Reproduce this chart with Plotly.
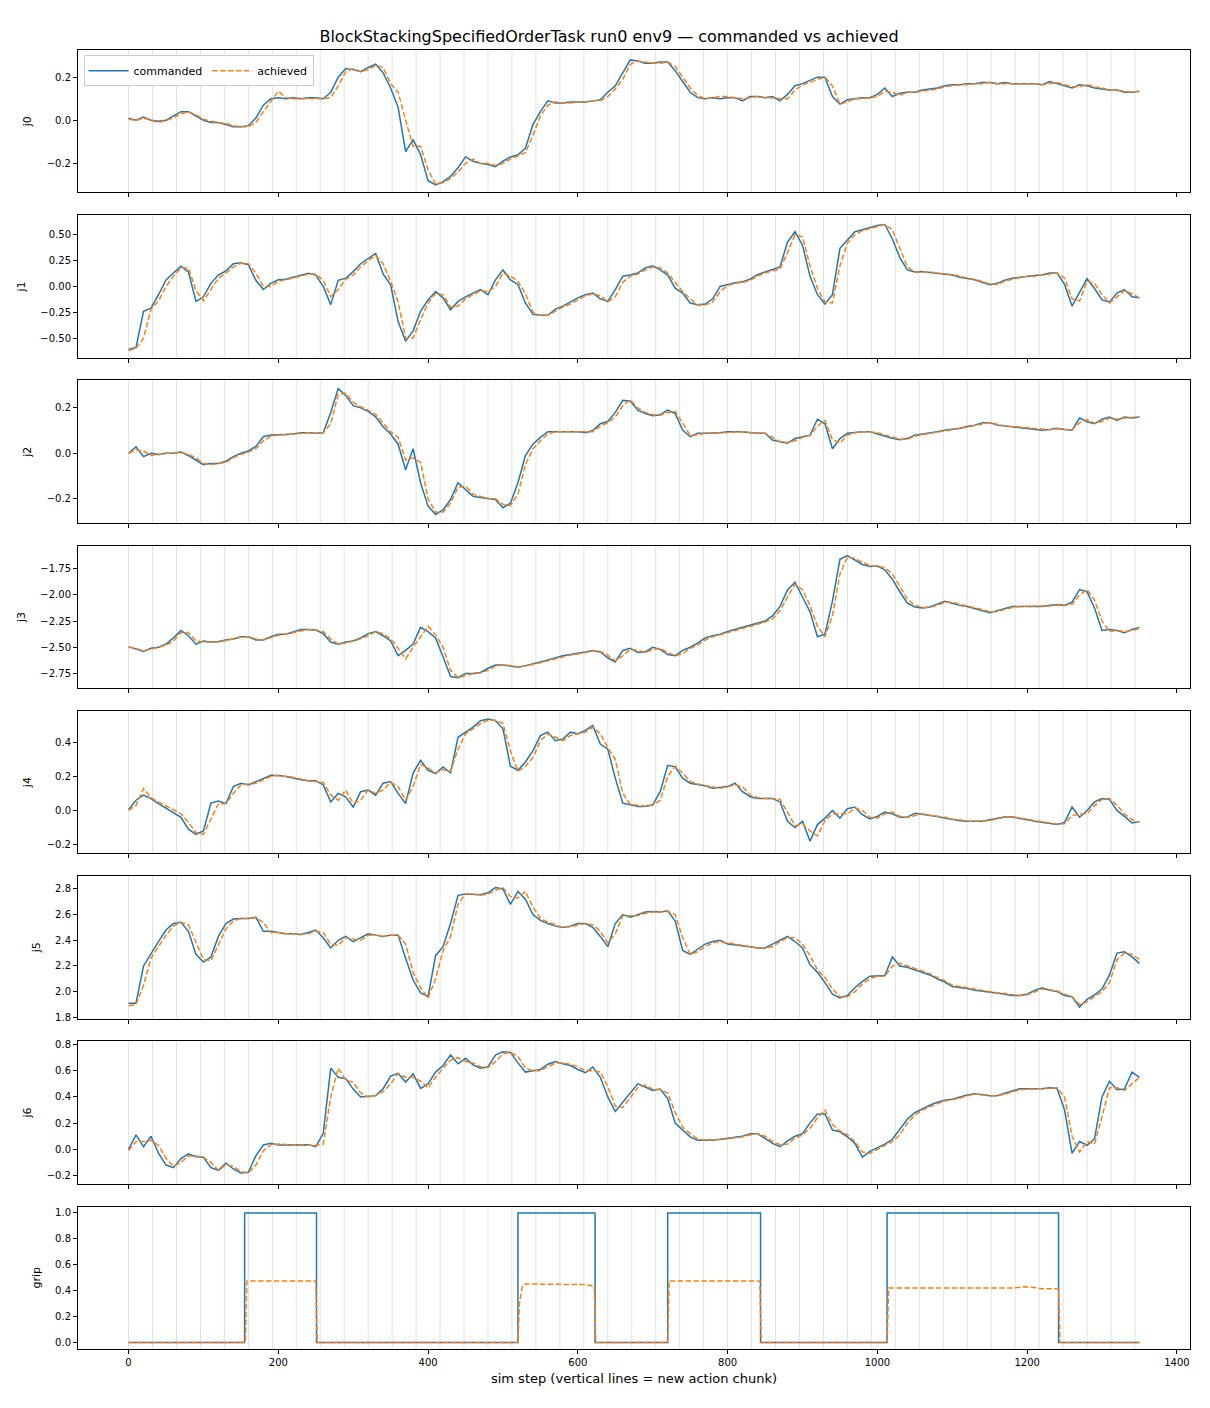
import plotly.graph_objects as go
from plotly.subplots import make_subplots

# sample grid (sim steps) used for the joint traces
steps = list(range(0, 1351, 10))

# step at which each new action chunk begins
chunk_starts = [0, 32, 64, 96, 128, 160, 192, 224, 256, 288, 320, 352, 384, 416, 448,
                480, 512, 544, 576, 608, 640, 672, 704, 736, 768, 800, 832, 864, 896,
                928, 960, 992, 1024, 1056, 1088, 1120, 1152, 1184, 1216, 1248, 1280,
                1312, 1344]

j0_cmd = [0.01, 0.0, 0.015, 0.0, -0.005, 0.0, 0.02, 0.04, 0.04, 0.02,
          0.0, -0.01, -0.01, -0.02, -0.03, -0.03, -0.025, 0.01, 0.07, 0.1,
          0.105, 0.1, 0.105, 0.1, 0.105, 0.105, 0.1, 0.13, 0.2, 0.24,
          0.235, 0.225, 0.245, 0.26, 0.22, 0.15, 0.06, -0.145, -0.09, -0.16,
          -0.28, -0.3, -0.285, -0.26, -0.22, -0.17, -0.19, -0.2, -0.205, -0.215,
          -0.19, -0.17, -0.16, -0.13, -0.02, 0.04, 0.09, 0.08, 0.08, 0.085,
          0.085, 0.085, 0.09, 0.095, 0.13, 0.16, 0.22, 0.28, 0.275, 0.265,
          0.265, 0.27, 0.27, 0.23, 0.18, 0.13, 0.105, 0.1, 0.105, 0.1,
          0.105, 0.105, 0.09, 0.11, 0.11, 0.105, 0.11, 0.09, 0.12, 0.16,
          0.17, 0.185, 0.2, 0.2, 0.11, 0.075, 0.095, 0.1, 0.105, 0.105,
          0.12, 0.15, 0.11, 0.125, 0.13, 0.13, 0.14, 0.145, 0.15, 0.16,
          0.165, 0.165, 0.17, 0.17, 0.175, 0.175, 0.17, 0.175, 0.17, 0.17,
          0.17, 0.17, 0.165, 0.18, 0.17, 0.16, 0.15, 0.165, 0.16, 0.15,
          0.145, 0.14, 0.14, 0.13, 0.13, 0.135]
j0_ach = [0.005, 0.0, 0.01, 0.0, -0.01, 0.0, 0.01, 0.03, 0.04, 0.025,
          0.005, -0.005, -0.01, -0.015, -0.025, -0.03, -0.03, -0.01, 0.04, 0.09,
          0.135, 0.105, 0.1, 0.1, 0.1, 0.1, 0.1, 0.105, 0.16, 0.225,
          0.24, 0.225, 0.235, 0.255, 0.245, 0.17, 0.13, 0.0, -0.12, -0.12,
          -0.23, -0.295, -0.29, -0.27, -0.24, -0.2, -0.18, -0.2, -0.2, -0.21,
          -0.2, -0.18, -0.165, -0.15, -0.07, 0.02, 0.07, 0.085, 0.08, 0.08,
          0.085, 0.085, 0.09, 0.09, 0.11, 0.145, 0.19, 0.26, 0.275, 0.27,
          0.265, 0.265, 0.27, 0.25, 0.2, 0.15, 0.115, 0.1, 0.105, 0.11,
          0.11, 0.105, 0.1, 0.105, 0.11, 0.105, 0.105, 0.1, 0.1, 0.14,
          0.165, 0.175, 0.19, 0.2, 0.16, 0.075, 0.085, 0.1, 0.1, 0.105,
          0.11, 0.135, 0.13, 0.115, 0.13, 0.13, 0.135, 0.14, 0.145, 0.155,
          0.16, 0.165, 0.165, 0.17, 0.17, 0.175, 0.17, 0.17, 0.17, 0.17,
          0.17, 0.17, 0.165, 0.17, 0.175, 0.165, 0.155, 0.155, 0.165, 0.155,
          0.15, 0.14, 0.14, 0.135, 0.13, 0.135]

j1_cmd = [-0.61, -0.59, -0.24, -0.21, -0.08, 0.064, 0.13, 0.195, 0.14, -0.145,
          -0.1, 0.03, 0.11, 0.15, 0.22, 0.23, 0.21, 0.06, -0.03, 0.03,
          0.064, 0.07, 0.09, 0.11, 0.128, 0.11, 0.0, -0.176, 0.06, 0.08,
          0.144, 0.22, 0.27, 0.32, 0.12, 0.016, -0.34, -0.53, -0.43, -0.24,
          -0.13, -0.05, -0.11, -0.225, -0.145, -0.1, -0.064, -0.03, -0.08, 0.064,
          0.16, 0.064, 0.02, -0.16, -0.27, -0.28, -0.28, -0.22, -0.19, -0.15,
          -0.11, -0.08, -0.064, -0.12, -0.145, -0.03, 0.1, 0.11, 0.13, 0.18,
          0.2, 0.16, 0.11, -0.016, -0.064, -0.16, -0.176, -0.17, -0.12, 0.0,
          0.02, 0.035, 0.045, 0.07, 0.115, 0.14, 0.16, 0.19, 0.43, 0.53,
          0.4, 0.1, -0.08, -0.17, -0.08, 0.37, 0.45, 0.53, 0.55, 0.57,
          0.59, 0.6, 0.46, 0.28, 0.16, 0.14, 0.144, 0.135, 0.128, 0.12,
          0.11, 0.09, 0.075, 0.064, 0.04, 0.016, 0.03, 0.06, 0.08, 0.09,
          0.1, 0.105, 0.11, 0.13, 0.13, 0.02, -0.19, -0.064, 0.075, -0.02,
          -0.13, -0.15, -0.064, -0.03, -0.1, -0.11]
j1_ach = [-0.62, -0.6, -0.5, -0.22, -0.14, 0.0, 0.1, 0.18, 0.18, -0.04,
          -0.14, -0.03, 0.08, 0.13, 0.19, 0.225, 0.22, 0.13, 0.0, 0.0,
          0.05, 0.065, 0.08, 0.1, 0.12, 0.12, 0.06, -0.1, -0.03, 0.07,
          0.11, 0.19, 0.25, 0.3, 0.22, 0.05, -0.15, -0.5, -0.5, -0.32,
          -0.16, -0.07, -0.08, -0.2, -0.19, -0.12, -0.08, -0.04, -0.05, 0.0,
          0.13, 0.1, 0.05, -0.07, -0.25, -0.28, -0.28, -0.24, -0.2, -0.17,
          -0.13, -0.09, -0.07, -0.09, -0.15, -0.1, 0.04, 0.1, 0.12, 0.16,
          0.19, 0.18, 0.13, 0.04, -0.05, -0.12, -0.18, -0.18, -0.15, -0.05,
          0.01, 0.03, 0.04, 0.06, 0.1, 0.13, 0.15, 0.17, 0.33, 0.5,
          0.48, 0.2, -0.02, -0.15, -0.16, 0.2, 0.42, 0.5, 0.54, 0.56,
          0.58, 0.6, 0.55, 0.36, 0.19, 0.14, 0.14, 0.14, 0.13, 0.125,
          0.115, 0.1, 0.08, 0.07, 0.05, 0.025, 0.02, 0.05, 0.07, 0.085,
          0.1, 0.1, 0.11, 0.12, 0.13, 0.08, -0.12, -0.14, 0.05, 0.03,
          -0.08, -0.16, -0.1, -0.04, -0.07, -0.11]

j2_cmd = [0.0, 0.028, -0.015, 0.0, -0.005, 0.0, 0.0, 0.005, -0.01, -0.03,
          -0.05, -0.045, -0.045, -0.035, -0.015, 0.0, 0.01, 0.03, 0.073, 0.08,
          0.08, 0.083, 0.085, 0.09, 0.09, 0.088, 0.09, 0.18, 0.285, 0.255,
          0.21, 0.2, 0.185, 0.16, 0.117, 0.085, 0.04, -0.073, 0.02, -0.13,
          -0.233, -0.27, -0.25, -0.204, -0.13, -0.16, -0.19, -0.195, -0.2, -0.204,
          -0.24, -0.22, -0.13, -0.01, 0.04, 0.07, 0.095, 0.095, 0.095, 0.095,
          0.095, 0.09, 0.1, 0.13, 0.14, 0.18, 0.233, 0.23, 0.19, 0.175,
          0.165, 0.17, 0.19, 0.175, 0.102, 0.073, 0.088, 0.088, 0.088, 0.09,
          0.095, 0.095, 0.095, 0.09, 0.088, 0.088, 0.058, 0.05, 0.044, 0.065,
          0.073, 0.08, 0.15, 0.13, 0.02, 0.065, 0.088, 0.093, 0.095, 0.095,
          0.085, 0.075, 0.066, 0.06, 0.065, 0.08, 0.085, 0.088, 0.095, 0.102,
          0.105, 0.11, 0.118, 0.124, 0.135, 0.135, 0.124, 0.12, 0.117, 0.113,
          0.11, 0.105, 0.102, 0.105, 0.11, 0.105, 0.102, 0.155, 0.139, 0.13,
          0.15, 0.16, 0.145, 0.16, 0.155, 0.16]
j2_ach = [0.0, 0.015, 0.01, -0.01, -0.005, 0.0, 0.0, 0.003, -0.005, -0.02,
          -0.045, -0.05, -0.045, -0.04, -0.02, -0.005, 0.005, 0.02, 0.055, 0.075,
          0.08, 0.082, 0.085, 0.088, 0.09, 0.088, 0.09, 0.13, 0.26, 0.265,
          0.225, 0.205, 0.19, 0.17, 0.13, 0.095, 0.07, -0.03, -0.02, -0.04,
          -0.2, -0.26, -0.26, -0.22, -0.15, -0.145, -0.18, -0.19, -0.2, -0.2,
          -0.225, -0.23, -0.18, -0.05, 0.02, 0.055, 0.085, 0.095, 0.095, 0.095,
          0.095, 0.092, 0.095, 0.12, 0.135, 0.16, 0.21, 0.235, 0.2, 0.18,
          0.17, 0.168, 0.18, 0.185, 0.13, 0.08, 0.08, 0.088, 0.088, 0.09,
          0.093, 0.095, 0.095, 0.092, 0.09, 0.088, 0.07, 0.05, 0.048, 0.055,
          0.07, 0.078, 0.12, 0.145, 0.06, 0.045, 0.08, 0.09, 0.095, 0.095,
          0.09, 0.08, 0.07, 0.062, 0.062, 0.075, 0.082, 0.087, 0.092, 0.1,
          0.104, 0.108, 0.115, 0.122, 0.13, 0.135, 0.128, 0.12, 0.118, 0.115,
          0.11, 0.107, 0.104, 0.104, 0.108, 0.107, 0.103, 0.135, 0.148, 0.133,
          0.14, 0.155, 0.15, 0.155, 0.158, 0.16]

j3_cmd = [-2.494, -2.52, -2.54, -2.51, -2.5, -2.47, -2.41, -2.34, -2.39, -2.47,
          -2.44, -2.45, -2.445, -2.43, -2.42, -2.4, -2.4, -2.43, -2.43, -2.4,
          -2.375, -2.375, -2.35, -2.33, -2.33, -2.335, -2.37, -2.45, -2.47, -2.45,
          -2.44, -2.41, -2.37, -2.35, -2.39, -2.44, -2.58, -2.53, -2.47, -2.31,
          -2.35, -2.41, -2.59, -2.78, -2.79, -2.75, -2.75, -2.74, -2.7, -2.67,
          -2.67, -2.68, -2.69, -2.675, -2.66, -2.64, -2.62, -2.6, -2.58, -2.57,
          -2.56, -2.545, -2.53, -2.545, -2.6, -2.64, -2.53, -2.51, -2.55, -2.545,
          -2.5, -2.52, -2.57, -2.58, -2.53, -2.5, -2.46, -2.41, -2.39, -2.375,
          -2.35, -2.33, -2.31, -2.29, -2.27, -2.25, -2.2, -2.11, -1.953, -1.88,
          -2.02, -2.16, -2.4, -2.375, -2.06, -1.66, -1.625, -1.67, -1.71, -1.73,
          -1.725, -1.76, -1.85, -1.97, -2.08, -2.115, -2.125, -2.115, -2.09, -2.06,
          -2.08, -2.1, -2.11, -2.13, -2.15, -2.17, -2.15, -2.13, -2.11, -2.11,
          -2.11, -2.115, -2.11, -2.1, -2.094, -2.1, -2.07, -1.95, -1.97, -2.125,
          -2.34, -2.33, -2.34, -2.36, -2.33, -2.31]
j3_ach = [-2.5, -2.51, -2.535, -2.52, -2.5, -2.48, -2.44, -2.36, -2.36, -2.44,
          -2.45, -2.45, -2.45, -2.435, -2.42, -2.405, -2.4, -2.42, -2.43, -2.41,
          -2.385, -2.375, -2.36, -2.34, -2.33, -2.335, -2.35, -2.42, -2.47, -2.46,
          -2.44, -2.42, -2.39, -2.35, -2.37, -2.42, -2.51, -2.61, -2.5, -2.4,
          -2.3, -2.38, -2.5, -2.72, -2.79, -2.77, -2.75, -2.745, -2.72, -2.68,
          -2.67, -2.675, -2.685, -2.68, -2.665, -2.65, -2.63, -2.61, -2.59, -2.575,
          -2.565, -2.55, -2.535, -2.54, -2.575, -2.63, -2.58, -2.52, -2.53, -2.55,
          -2.52, -2.51, -2.55, -2.58, -2.56, -2.51, -2.48, -2.43, -2.4, -2.38,
          -2.36, -2.34, -2.32, -2.3, -2.28, -2.26, -2.23, -2.15, -2.02, -1.9,
          -1.95, -2.1, -2.3, -2.4, -2.2, -1.8, -1.64, -1.65, -1.69, -1.72,
          -1.73, -1.74, -1.8, -1.92, -2.04, -2.1, -2.12, -2.12, -2.1, -2.07,
          -2.07, -2.09, -2.105, -2.12, -2.14, -2.16, -2.16, -2.14, -2.12, -2.11,
          -2.11, -2.11, -2.11, -2.105, -2.1, -2.1, -2.09, -2.0, -1.95, -2.05,
          -2.25, -2.35, -2.34, -2.35, -2.34, -2.32]

j4_cmd = [0.004, 0.06, 0.09, 0.07, 0.04, 0.014, -0.012, -0.04, -0.11, -0.14,
          -0.12, 0.043, 0.055, 0.04, 0.14, 0.16, 0.15, 0.17, 0.19, 0.207,
          0.205, 0.2, 0.19, 0.18, 0.175, 0.175, 0.15, 0.05, 0.1, 0.08,
          0.02, 0.11, 0.12, 0.09, 0.16, 0.17, 0.1, 0.04, 0.22, 0.295,
          0.236, 0.217, 0.256, 0.22, 0.43, 0.46, 0.49, 0.527, 0.537, 0.527,
          0.48, 0.26, 0.236, 0.285, 0.35, 0.44, 0.46, 0.41, 0.42, 0.46,
          0.45, 0.47, 0.5, 0.39, 0.36, 0.19, 0.043, 0.033, 0.023, 0.023,
          0.033, 0.11, 0.265, 0.256, 0.19, 0.16, 0.152, 0.145, 0.13, 0.135,
          0.14, 0.16, 0.11, 0.08, 0.07, 0.07, 0.07, 0.05, -0.064, -0.1,
          -0.064, -0.18, -0.083, -0.045, 0.0, -0.045, 0.01, 0.02, -0.025, -0.05,
          -0.035, -0.01, -0.02, -0.04, -0.04, -0.016, -0.022, -0.028, -0.035, -0.045,
          -0.054, -0.06, -0.064, -0.064, -0.064, -0.055, -0.045, -0.038, -0.038, -0.045,
          -0.055, -0.064, -0.07, -0.076, -0.083, -0.07, 0.02, -0.04, 0.0, 0.05,
          0.07, 0.065, 0.0, -0.035, -0.074, -0.065]
j4_ach = [0.0, 0.03, 0.13, 0.075, 0.05, 0.025, 0.0, -0.02, -0.07, -0.13,
          -0.14, -0.05, 0.04, 0.04, 0.1, 0.15, 0.155, 0.16, 0.18, 0.2,
          0.205, 0.2, 0.195, 0.185, 0.175, 0.17, 0.165, 0.09, 0.06, 0.12,
          0.04, 0.06, 0.12, 0.1, 0.12, 0.165, 0.14, 0.06, 0.14, 0.27,
          0.25, 0.22, 0.24, 0.23, 0.36, 0.45, 0.48, 0.51, 0.53, 0.53,
          0.51, 0.35, 0.23, 0.26, 0.31, 0.41, 0.45, 0.43, 0.41, 0.44,
          0.45, 0.46, 0.49, 0.45, 0.37, 0.3, 0.1, 0.035, 0.03, 0.025,
          0.03, 0.06, 0.2, 0.26, 0.22, 0.17, 0.155, 0.145, 0.14, 0.13,
          0.14, 0.15, 0.14, 0.09, 0.075, 0.07, 0.07, 0.065, -0.01, -0.09,
          -0.08, -0.12, -0.15, -0.06, -0.02, -0.02, -0.02, 0.015, 0.0, -0.04,
          -0.045, -0.02, -0.01, -0.035, -0.04, -0.03, -0.02, -0.028, -0.033, -0.04,
          -0.05, -0.057, -0.062, -0.064, -0.064, -0.06, -0.05, -0.04, -0.038, -0.042,
          -0.05, -0.06, -0.067, -0.073, -0.08, -0.078, -0.03, -0.02, -0.02, 0.03,
          0.065, 0.07, 0.03, -0.02, -0.055, -0.07]

j5_cmd = [1.91, 1.91, 2.2, 2.3, 2.39, 2.48, 2.53, 2.54, 2.47, 2.29,
          2.23, 2.27, 2.43, 2.53, 2.565, 2.57, 2.57, 2.58, 2.47, 2.47,
          2.46, 2.45, 2.45, 2.445, 2.46, 2.48, 2.42, 2.34, 2.4, 2.43,
          2.39, 2.42, 2.45, 2.44, 2.43, 2.44, 2.44, 2.26, 2.09, 1.99,
          1.96, 2.28, 2.35, 2.53, 2.75, 2.76, 2.755, 2.755, 2.77, 2.81,
          2.8, 2.68, 2.78, 2.72, 2.6, 2.555, 2.53, 2.51, 2.5, 2.51,
          2.53, 2.53, 2.5, 2.43, 2.35, 2.53, 2.6, 2.58, 2.6, 2.62,
          2.625, 2.62, 2.63, 2.55, 2.32, 2.29, 2.33, 2.37, 2.39, 2.4,
          2.37, 2.365, 2.36, 2.35, 2.34, 2.34, 2.37, 2.4, 2.43, 2.39,
          2.34, 2.21, 2.15, 2.07, 1.98, 1.95, 1.97, 2.03, 2.08, 2.12,
          2.12, 2.125, 2.27, 2.2, 2.19, 2.17, 2.15, 2.13, 2.1, 2.075,
          2.04, 2.035, 2.025, 2.01, 2.005, 1.995, 1.99, 1.98, 1.97, 1.97,
          1.98, 2.01, 2.03, 2.01, 2.0, 1.97, 1.96, 1.88, 1.94, 1.975,
          2.02, 2.13, 2.3, 2.31, 2.27, 2.22]
j5_ach = [1.89, 1.9, 2.05, 2.26, 2.35, 2.44, 2.51, 2.54, 2.52, 2.38,
          2.25, 2.24, 2.36, 2.49, 2.55, 2.57, 2.57, 2.575, 2.54, 2.46,
          2.46, 2.45, 2.45, 2.445, 2.45, 2.47, 2.46, 2.37, 2.36, 2.42,
          2.41, 2.4, 2.44, 2.44, 2.43, 2.44, 2.44, 2.37, 2.15, 2.03,
          1.95, 2.1, 2.32, 2.43, 2.68, 2.76, 2.76, 2.75, 2.76, 2.79,
          2.81, 2.74, 2.73, 2.78, 2.66, 2.57, 2.54, 2.52, 2.5, 2.505,
          2.52, 2.53, 2.52, 2.47, 2.38, 2.45, 2.59, 2.59, 2.59, 2.61,
          2.62, 2.62, 2.625, 2.6, 2.42, 2.29, 2.31, 2.35, 2.38, 2.39,
          2.38, 2.37, 2.36, 2.35, 2.34, 2.34, 2.35, 2.39, 2.42, 2.42,
          2.37, 2.28, 2.17, 2.11, 2.02, 1.96, 1.96, 2.0, 2.06, 2.1,
          2.12, 2.12, 2.2, 2.22, 2.2, 2.18, 2.16, 2.14, 2.11, 2.085,
          2.05, 2.04, 2.03, 2.015, 2.005, 2.0, 1.99, 1.985, 1.975, 1.97,
          1.975, 2.0, 2.02, 2.015, 2.005, 1.98, 1.96, 1.9, 1.92, 1.96,
          2.0, 2.07, 2.25, 2.3, 2.29, 2.25]

j6_cmd = [0.0, 0.11, 0.02, 0.1, -0.03, -0.12, -0.14, -0.07, -0.035, -0.056,
          -0.06, -0.14, -0.16, -0.106, -0.15, -0.18, -0.175, -0.05, 0.033, 0.046,
          0.033, 0.033, 0.035, 0.033, 0.035, 0.02, 0.12, 0.62, 0.55, 0.54,
          0.46, 0.4, 0.405, 0.41, 0.463, 0.56, 0.58, 0.514, 0.577, 0.465,
          0.5, 0.59, 0.64, 0.72, 0.653, 0.695, 0.645, 0.62, 0.63, 0.72,
          0.745, 0.74, 0.66, 0.59, 0.6, 0.61, 0.65, 0.67, 0.653, 0.64,
          0.61, 0.585, 0.628, 0.55, 0.4, 0.29, 0.36, 0.43, 0.5, 0.476,
          0.45, 0.46, 0.387, 0.2, 0.145, 0.095, 0.07, 0.07, 0.07, 0.077,
          0.083, 0.09, 0.1, 0.12, 0.12, 0.083, 0.046, 0.02, 0.065, 0.1,
          0.12, 0.2, 0.27, 0.27, 0.147, 0.134, 0.096, 0.046, -0.06, -0.015,
          0.01, 0.04, 0.077, 0.15, 0.23, 0.28, 0.31, 0.337, 0.36, 0.375,
          0.383, 0.4, 0.415, 0.425, 0.415, 0.41, 0.41, 0.43, 0.445, 0.463,
          0.463, 0.463, 0.463, 0.47, 0.465, 0.3, -0.03, 0.06, 0.03, 0.08,
          0.4, 0.52, 0.455, 0.46, 0.59, 0.55]
j6_ach = [-0.01, 0.06, 0.06, 0.07, 0.03, -0.07, -0.13, -0.1, -0.05, -0.05,
          -0.06, -0.1, -0.16, -0.12, -0.13, -0.17, -0.18, -0.12, -0.01, 0.035,
          0.04, 0.035, 0.033, 0.033, 0.033, 0.03, 0.04, 0.4, 0.62, 0.53,
          0.51, 0.43, 0.4, 0.41, 0.44, 0.5, 0.58, 0.55, 0.55, 0.52,
          0.47, 0.55, 0.62, 0.68, 0.7, 0.67, 0.66, 0.63, 0.625, 0.67,
          0.73, 0.74, 0.71, 0.62, 0.6, 0.6, 0.63, 0.66, 0.66, 0.65,
          0.63, 0.6, 0.6, 0.59, 0.48, 0.33, 0.32, 0.4, 0.47, 0.49,
          0.46, 0.455, 0.43, 0.28, 0.17, 0.12, 0.08, 0.07, 0.07, 0.075,
          0.08, 0.088, 0.097, 0.11, 0.12, 0.1, 0.06, 0.035, 0.04, 0.085,
          0.11, 0.16, 0.24, 0.3, 0.19, 0.14, 0.11, 0.06, -0.02, -0.03,
          0.0, 0.03, 0.06, 0.11, 0.2, 0.26, 0.3, 0.325, 0.35, 0.37,
          0.38, 0.39, 0.41, 0.42, 0.42, 0.41, 0.41, 0.42, 0.44, 0.455,
          0.46, 0.46, 0.46, 0.465, 0.47, 0.4, 0.1, -0.02, 0.06, 0.04,
          0.25, 0.47, 0.47, 0.45, 0.5, 0.55]

# gripper: commanded is a step signal, achieved settles below 0.5
grip_cmd_steps = [0, 155, 251, 520, 623, 720, 844, 1013, 1242, 1350]
grip_cmd = [0, 1, 0, 1, 0, 1, 0, 1, 0, 0]
grip_ach_steps = [0, 156, 158, 250, 252, 520, 522, 526, 530, 600, 610, 620, 622, 624,
                  720, 722, 843, 845, 1013, 1015, 1180, 1195, 1210, 1220, 1242, 1244, 1350]
grip_ach = [0, 0, 0.475, 0.475, 0, 0, 0.3, 0.44, 0.452, 0.452, 0.447, 0.437, 0.435, 0,
            0, 0.475, 0.475, 0, 0, 0.42, 0.42, 0.43, 0.425, 0.415, 0.415, 0, 0]

joints = [
    ("j0", j0_cmd, j0_ach, [-0.335, 0.326], [-0.2, 0.0, 0.2], ".1f"),
    ("j1", j1_cmd, j1_ach, [-0.69, 0.69], [-0.5, -0.25, 0.0, 0.25, 0.5], ".2f"),
    ("j2", j2_cmd, j2_ach, [-0.307, 0.321], [-0.2, 0.0, 0.2], ".1f"),
    ("j3", j3_cmd, j3_ach, [-2.89, -1.53], [-2.75, -2.5, -2.25, -2.0, -1.75], ".2f"),
    ("j4", j4_cmd, j4_ach, [-0.252, 0.585], [-0.2, 0.0, 0.2, 0.4], ".1f"),
    ("j5", j5_cmd, j5_ach, [1.79, 2.9], [1.8, 2.0, 2.2, 2.4, 2.6, 2.8], ".1f"),
    ("j6", j6_cmd, j6_ach, [-0.263, 0.825], [-0.2, 0.0, 0.2, 0.4, 0.6, 0.8], ".1f"),
]

BLUE = "#1f77b4"
ORANGE = "#ff7f0e"
DASH = "5.5px,2.4px"
FONT = "DejaVu Sans"

fig = make_subplots(rows=8, cols=1, shared_xaxes=True, vertical_spacing=0.0175)

for i, (name, cmd, ach, yr, tv, fmt) in enumerate(joints):
    row = i + 1
    fig.add_trace(go.Scatter(x=steps, y=cmd, mode="lines", name="commanded",
                             line=dict(color=BLUE, width=1.5),
                             showlegend=(row == 1), legendgroup="cmd"),
                  row=row, col=1)
    fig.add_trace(go.Scatter(x=steps, y=ach, mode="lines", name="achieved",
                             line=dict(color=ORANGE, width=1.5, dash=DASH),
                             showlegend=(row == 1), legendgroup="ach"),
                  row=row, col=1)
    fig.update_yaxes(range=yr, tickvals=tv, tickformat=fmt,
                     title_text=name, row=row, col=1)

# gripper panel
fig.add_trace(go.Scatter(x=grip_cmd_steps, y=grip_cmd, mode="lines", line_shape="hv",
                         line=dict(color=BLUE, width=1.5), showlegend=False,
                         legendgroup="cmd"), row=8, col=1)
fig.add_trace(go.Scatter(x=grip_ach_steps, y=grip_ach, mode="lines",
                         line=dict(color=ORANGE, width=1.5, dash=DASH),
                         showlegend=False, legendgroup="ach"), row=8, col=1)
fig.update_yaxes(range=[-0.05, 1.05], tickvals=[0, 0.2, 0.4, 0.6, 0.8, 1.0],
                 tickformat=".1f", title_text="grip", row=8, col=1)

# action chunk boundaries
for s in chunk_starts:
    fig.add_vline(x=s, row="all", col=1, layer="below",
                  line=dict(color="rgba(0,0,0,0.12)", width=1))

fig.update_xaxes(range=[-67.5, 1417.5], tickvals=[0, 200, 400, 600, 800, 1000, 1200, 1400],
                 showline=True, mirror=True, linecolor="black", linewidth=1,
                 ticks="outside", ticklen=4, tickcolor="black",
                 showgrid=False, zeroline=False, tickfont=dict(size=10))
fig.update_xaxes(title_text="sim step (vertical lines = new action chunk)",
                 title_font=dict(size=13), title_standoff=6, row=8, col=1)
fig.update_yaxes(showline=True, mirror=True, linecolor="black", linewidth=1,
                 ticks="outside", ticklen=4, tickcolor="black",
                 showgrid=False, zeroline=False, tickfont=dict(size=10),
                 title_font=dict(size=11), title_standoff=12)

# the page puts the figure 8px in from the top-left corner
fig.update_layout(
    width=1202, height=1400,
    margin=dict(l=70, r=20, t=42, b=59),
    paper_bgcolor="white", plot_bgcolor="white",
    font=dict(family=FONT, color="black", size=10),
    title=dict(text="BlockStackingSpecifiedOrderTask run0 env9 — commanded vs achieved",
               x=0.5, xanchor="center", y=1 - 28 / 1400, yanchor="middle",
               font=dict(size=16)),
    legend=dict(orientation="h", x=0.005, y=0.996, xanchor="left", yanchor="top",
                bgcolor="rgba(255,255,255,0.85)", bordercolor="#cccccc", borderwidth=1,
                font=dict(size=11), itemwidth=40),
)

fig.write_html("out.html")
